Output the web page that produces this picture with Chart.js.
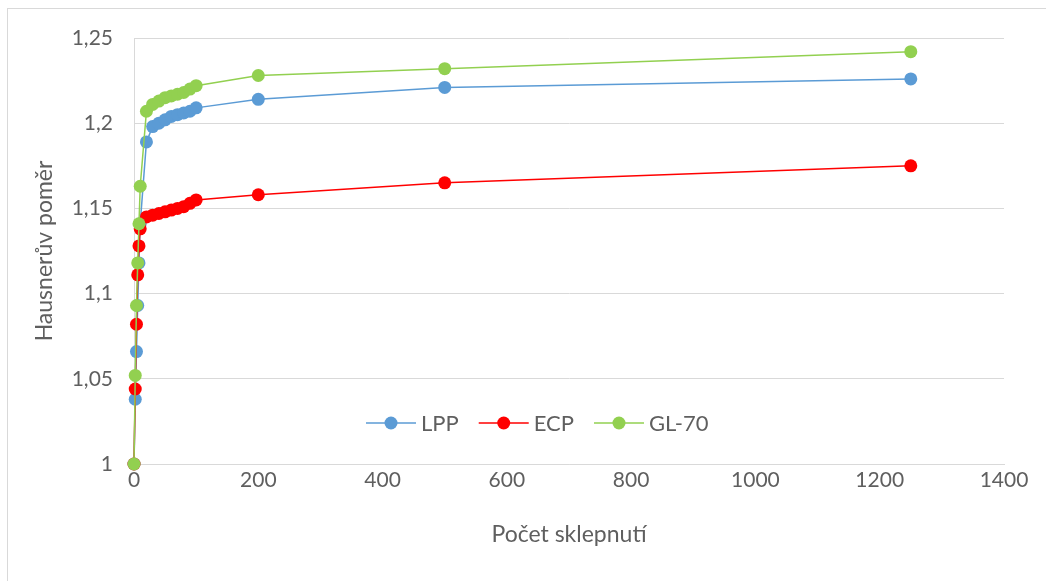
<!DOCTYPE html>
<html>
<head>
<meta charset="utf-8">
<script src="https://cdn.jsdelivr.net/npm/chart.js@4/dist/chart.umd.min.js"></script>
<style>
  html, body { margin: 0; padding: 0; background: #ffffff; }
  #wrap { position: relative; width: 1046px; height: 581px; overflow: hidden; }
  #frame { position: absolute; left: 7px; top: 8px; width: 1100px; height: 650px;
           border: 1px solid #d9d9d9; box-sizing: border-box; }
  #c { position: absolute; left: 0; top: 0; }
</style>
</head>
<body>
<div id="wrap">
  <div id="frame"></div>
  <canvas id="c" width="1046" height="581"></canvas>
</div>
<script>
// Number of taps (počet sklepnutí)
const taps = [0, 2, 4, 6, 8, 10, 20, 30, 40, 50, 60, 70, 80, 90, 100, 200, 500, 1250];

// Hausner ratio for each material
const lpp  = [1.000, 1.038, 1.066, 1.093, 1.118, 1.141, 1.189, 1.198, 1.200, 1.202, 1.204, 1.205, 1.206, 1.207, 1.209, 1.214, 1.221, 1.226];
const ecp  = [1.000, 1.044, 1.082, 1.111, 1.128, 1.138, 1.145, 1.146, 1.147, 1.148, 1.149, 1.150, 1.151, 1.153, 1.155, 1.158, 1.165, 1.175];
const gl70 = [1.000, 1.052, 1.093, 1.118, 1.141, 1.163, 1.207, 1.211, 1.213, 1.215, 1.216, 1.217, 1.218, 1.220, 1.222, 1.228, 1.232, 1.242];

const seriesNames  = ['LPP', 'ECP', 'GL-70'];
const seriesValues = [lpp, ecp, gl70];
const seriesColors = ['#5B9BD5', '#FF0000', '#92D050'];

const yTickValues = [1, 1.05, 1.1, 1.15, 1.2, 1.25];
const xTickValues = [0, 200, 400, 600, 800, 1000, 1200, 1400];

const axisTitleX = 'Počet sklepnutí';
const axisTitleY = 'Hausnerův poměr';

const FONT = 'Lato, "Open Sans", sans-serif';
const TEXT = '#5f5f5f';
const GRID = '#d9d9d9';

const datasets = seriesNames.map((name, i) => ({
  label: name,
  data: taps.map((t, k) => ({ x: t, y: seriesValues[i][k] })),
  showLine: true,
  clip: false,
  borderColor: seriesColors[i],
  backgroundColor: seriesColors[i],
  borderWidth: 1.5,
  pointRadius: 6.5,
  pointHoverRadius: 6.5,
  pointBorderWidth: 0,
  pointBackgroundColor: seriesColors[i],
  tension: 0,
  // later series sit on top of earlier ones
  order: seriesNames.length - i
}));

// Legend drawn inside the plot area, below the curves
const insideLegend = {
  id: 'insideLegend',
  afterDatasetsDraw(chart) {
    const ctx = chart.ctx;
    const y = 423;
    let x = 366;
    const lineLen = 50;
    ctx.save();
    ctx.font = '22px ' + FONT;
    ctx.textBaseline = 'middle';
    ctx.textAlign = 'left';
    chart.data.datasets.forEach((ds) => {
      ctx.strokeStyle = ds.borderColor;
      ctx.lineWidth = 1.5;
      ctx.beginPath();
      ctx.moveTo(x, y);
      ctx.lineTo(x + lineLen, y);
      ctx.stroke();
      ctx.fillStyle = ds.backgroundColor;
      ctx.beginPath();
      ctx.arc(x + lineLen / 2, y, 6.5, 0, Math.PI * 2);
      ctx.fill();
      ctx.fillStyle = TEXT;
      const tx = x + lineLen + 5;
      ctx.fillText(ds.label, tx, y + 1);
      x = tx + ctx.measureText(ds.label).width + 20;
    });
    ctx.restore();
  }
};

const PAD = { left: 8, right: 42, top: 38, bottom: 20 };

new Chart(document.getElementById('c'), {
  type: 'scatter',
  data: { datasets },
  options: {
    responsive: false,
    animation: false,
    devicePixelRatio: 1,
    layout: { padding: PAD },
    plugins: {
      legend: { display: false },
      tooltip: { enabled: false }
    },
    scales: {
      x: {
        type: 'linear',
        min: xTickValues[0],
        max: xTickValues[xTickValues.length - 1],
        afterBuildTicks(scale) { scale.ticks = xTickValues.map(v => ({ value: v })); },
        afterFit(scale) { scale.height = 581 - 464 - PAD.bottom; },
        ticks: {
          color: TEXT,
          font: { family: FONT, size: 21 },
          padding: 4,
          maxRotation: 0,
          callback: v => String(v)
        },
        grid: { display: false, drawTicks: false },
        border: { display: true, color: GRID, width: 1 },
        title: {
          display: true,
          text: axisTitleX,
          color: TEXT,
          font: { family: FONT, size: 23 },
          padding: { top: 0, bottom: 13 }
        }
      },
      y: {
        type: 'linear',
        min: yTickValues[0],
        max: yTickValues[yTickValues.length - 1],
        afterBuildTicks(scale) { scale.ticks = yTickValues.map(v => ({ value: v })); },
        afterFit(scale) { scale.width = 134 - PAD.left; },
        ticks: {
          color: TEXT,
          font: { family: FONT, size: 21 },
          padding: 21,
          callback: v => String(parseFloat(v.toFixed(2))).replace('.', ',')
        },
        grid: { color: GRID, lineWidth: 1, drawTicks: false },
        border: { display: true, color: GRID, width: 1 },
        title: {
          display: true,
          text: axisTitleY,
          color: TEXT,
          font: { family: FONT, size: 23 },
          padding: { top: 23, bottom: 0 }
        }
      }
    }
  },
  plugins: [insideLegend]
});
</script>
</body>
</html>
